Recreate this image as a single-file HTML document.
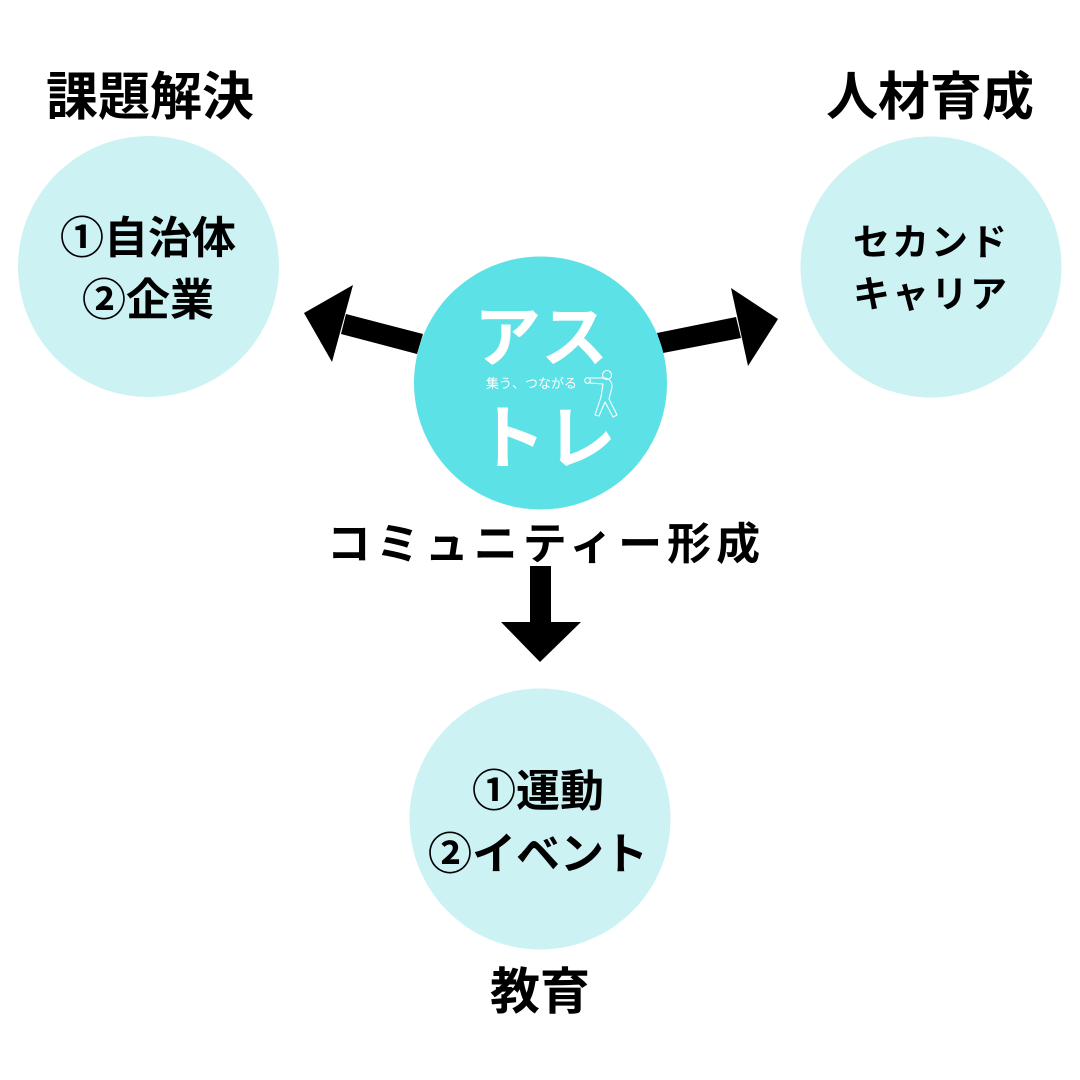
<!DOCTYPE html>
<html><head><meta charset="utf-8"><style>
html,body{margin:0;padding:0;background:#fff;}
svg{display:block;}
text{font-family:"Liberation Sans","Noto Sans CJK JP",sans-serif;}
</style></head><body>
<svg width="1080" height="1080" viewBox="0 0 1080 1080" xmlns="http://www.w3.org/2000/svg">
<rect width="1080" height="1080" fill="#fff"/>
<!-- light circles -->
<circle cx="148.5" cy="266.5" r="130.5" fill="#ccf2f4"/>
<circle cx="931" cy="267" r="130.5" fill="#ccf2f4"/>
<circle cx="540" cy="819" r="130.5" fill="#ccf2f4"/>
<!-- arrows -->
<polygon points="346,314 423,334 417,354 341,334" fill="#000"/>
<polygon points="304,313 353,285 332,362" fill="#000"/>
<polygon points="736,317 657,333 663,353 741,338" fill="#000"/>
<polygon points="778,319 731,288 748,366" fill="#000"/>
<rect x="530" y="566" width="21" height="57" fill="#000"/>
<polygon points="501,622 581,622 540,662" fill="#000"/>
<!-- center circle -->
<circle cx="540.5" cy="383" r="126.5" fill="#5ce1e6"/>
<text x="541" y="361" font-size="67" font-weight="700" fill="#fff" text-anchor="middle">アス</text>
<text x="546" y="463" font-size="70" font-weight="700" fill="#fff" text-anchor="middle">トレ</text>
<text x="486" y="388" font-size="13" fill="#fff">集う、つながる</text>
<g fill="none" stroke="#fff" stroke-width="1.1" stroke-linejoin="round" stroke-linecap="round">
<circle cx="607" cy="375" r="4.5"/>
<path d="M590,378 L603,378 Q612,378 612,387 L609,399 L617,415 L613,417 L605,402 L599,416 L595,415 L601,397 L603,384 L590,383"/>
<circle cx="587.5" cy="380.5" r="2.8"/>
</g>
<!-- labels -->
<g font-weight="700" fill="#000" text-anchor="middle">
<text x="150" y="115" font-size="52">課題解決</text>
<text x="930" y="115" font-size="52">人材育成</text>
<text x="148" y="253" font-size="44">①自治体</text>
<text x="148" y="315" font-size="44">②企業</text>
<text x="931" y="255" font-size="37" letter-spacing="2">セカンド</text>
<text x="931" y="307" font-size="37" letter-spacing="2">キャリア</text>
<text x="546" y="559" font-size="44" letter-spacing="5">コミュニティー形成</text>
<text x="538" y="806" font-size="44">①運動</text>
<text x="538" y="869" font-size="44">②イベント</text>
<text x="540" y="1009" font-size="50">教育</text>
</g>
</svg>
</body></html>
